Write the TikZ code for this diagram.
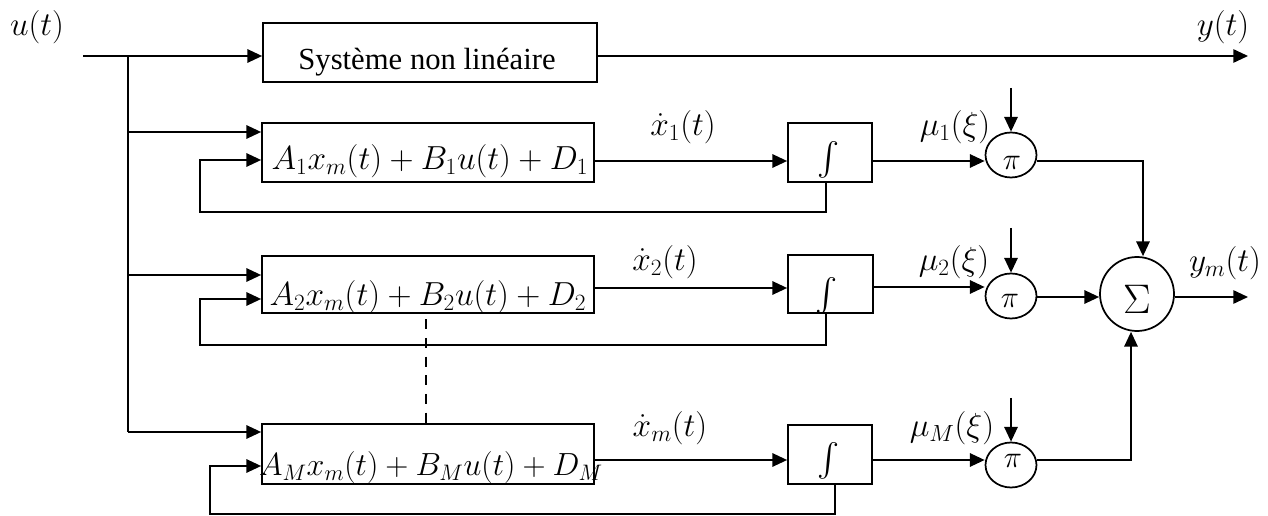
\RequirePackage{fix-cm}
\documentclass[tikz,border=0pt]{standalone}
\usepackage{exscale}
\usepackage{fontspec}
\newfontfamily\blocktext{Liberation Serif}
\usetikzlibrary{arrows.meta,shapes.geometric}

\begin{document}
\begin{tikzpicture}[x=0.75pt,y=-0.75pt,
  line width=1.3pt,
  every node/.style={font=\fontsize{25}{29}\selectfont, inner sep=0pt},
  arr/.style={-{Triangle[length=11pt,width=10pt]}},
  blockbox/.style={draw, rectangle, line width=1.3pt, minimum width=#1},
  eqtext/.style={anchor=base},
  intsym/.style={font=\fontsize{24}{28}\selectfont},
  mulbox/.style={draw, ellipse, line width=1.3pt, minimum width=38.25pt, minimum height=33.75pt},
  pitext/.style={font=\fontsize{23}{27}\selectfont},
  sumbox/.style={draw, circle, line width=1.3pt, minimum size=55.5pt},
  sigtext/.style={font=\fontsize{31}{35}\selectfont},
  feedback/.style={arr},
  dots/.style={dash pattern=on 7.5pt off 6.5pt}
]
\useasboundingbox (0,0) rectangle (1268,516);

% input signal and its branch points
\coordinate (in) at (83,56);
\coordinate (b0) at (128,56);
\coordinate (b1) at (128,132);
\coordinate (b2) at (128,275);
\coordinate (bM) at (128,432);
\coordinate (yend) at (1248,56);

% signal levels of each local model row
\coordinate (r1) at (0,161);
\coordinate (r2) at (0,288);
\coordinate (r2s) at (0,297);
\coordinate (rM) at (0,460);
\coordinate (ymend) at (1248,297);

% nonlinear system
\node[blockbox=250.5pt, minimum height=44.25pt] (sys) at (430,52.5) {};
\node[font=\blocktext\fontsize{23}{27}\selectfont] (systxt) at (427,62) {Système non linéaire};

% local linear models
\node[blockbox=249pt, minimum height=44.25pt] (box1) at (428,152.5) {};
\node[blockbox=249pt, minimum height=42.75pt] (box2) at (428,284.5) {};
\node[blockbox=249pt, minimum height=45pt] (boxM) at (428,454) {};
\node[eqtext] (eq1) at (430,170) {$A_1x_m(t)+B_1u(t)+D_1$};
\node[eqtext] (eq2) at (428,306) {$A_2x_m(t)+B_2u(t)+D_2$};
\node[eqtext, font=\fontsize{24}{28}\selectfont] (eqM) at (431,476) {$A_Mx_m(t)+B_Mu(t)+D_M$};

% integrators
\node[blockbox=63pt, minimum height=44.25pt] (int1) at (830,152.5) {};
\node[blockbox=63.75pt, minimum height=43.5pt] (int2) at (830.5,284) {};
\node[blockbox=63pt, minimum height=44.25pt] (intM) at (830,454.5) {};
\node[intsym] (is1) at (829,160) {$\int$};
\node[intsym] (is2) at (827,296) {$\int$};
\node[intsym] (isM) at (829,461) {$\int$};

% weighting multipliers
\node[mulbox] (pi1) at (1011,155) {};
\node[mulbox] (pi2) at (1011,296) {};
\node[mulbox] (piM) at (1011,465) {};
\node[pitext] (pt1) at (1012,163) {$\pi$};
\node[pitext] (pt2) at (1010,301) {$\pi$};
\node[pitext] (ptM) at (1013,461) {$\pi$};
\coordinate (m1) at (1011,88);
\coordinate (m2) at (1011,228);
\coordinate (mM) at (1011,398);

% summation
\node[sumbox] (sig) at (1137,294) {};
\node[sigtext] (sigt) at (1137,299) {$\Sigma$};

% labels
\node (ut) at (37,27) {$u(t)$};
\node (yt) at (1223,27) {$y(t)$};
\node (xd1) at (683,127) {$\dot{x}_1(t)$};
\node (xd2) at (665,262) {$\dot{x}_2(t)$};
\node (xdM) at (670,428) {$\dot{x}_m(t)$};
\node (mu1) at (955,127) {$\mu_1(\xi)$};
\node (mu2) at (954,262) {$\mu_2(\xi)$};
\node (muM) at (952,428) {$\mu_M(\xi)$};
\node (ym) at (1225,263) {$y_m(t)$};

% input distribution
\draw[arr] (in) -- (b0 -| sys.west);
\draw (b0) -- (bM);
\draw[arr] (b1) -- (b1 -| box1.west);
\draw[arr] (b2) -- (b2 -| box2.west);
\draw[arr] (bM) -- (bM -| boxM.west);
\draw[arr] (sys.east |- b0) -- (yend);

% model outputs through the integrators
\draw[arr] (box1.east |- r1) -- (int1.west |- r1);
\draw[arr] (box2.east |- r2) -- (int2.west |- r2);
\draw[arr] (boxM.east |- rM) -- (intM.west |- rM);
\draw[arr] (int1.east |- r1) -- (pi1.west |- r1);
\draw[arr] ([yshift=0.75pt]int2.east |- r2) -- ([yshift=0.75pt]pi2.west |- r2);
\draw[arr] (intM.east |- rM) -- (piM.west |- rM);

% state feedback loops
\coordinate (f1a) at (826,212); \coordinate (f1b) at (200,212); \coordinate (f1c) at (200,160);
\coordinate (f2a) at (826,345); \coordinate (f2b) at (200,345); \coordinate (f2c) at (200,299);
\coordinate (fMa) at (835,514); \coordinate (fMb) at (210,514); \coordinate (fMc) at (210,466);
\draw[feedback] (f1a |- int1.south) -- (f1a) -- (f1b) -- (f1c) -- (f1c -| box1.west);
\draw[feedback] (f2a |- int2.south) -- (f2a) -- (f2b) -- (f2c) -- (f2c -| box2.west);
\draw[feedback] (fMa |- intM.south) -- (fMa) -- (fMb) -- (fMc) -- (fMc -| boxM.west);

% validity functions into the multipliers
\draw[arr] (m1) -- (pi1.north);
\draw[arr] (m2) -- (pi2.north);
\draw[arr] (mM) -- (piM.north);

% weighted sum
\draw[arr] (pi1.east |- r1) -| ([xshift=4.5pt]sig.north);
\draw[arr] (pi2.east |- r2s) -- (sig.west |- r2s);
\draw[arr] (piM.east |- rM) -| ([xshift=-4.5pt]sig.south);
\draw[arr] (sig.east |- r2s) -- (ymend);

% omitted intermediate models
\draw[dots] ([xshift=-1.5pt,yshift=-4pt]box2.south) -- ([xshift=-1.5pt]boxM.north);
\end{tikzpicture}
\end{document}
